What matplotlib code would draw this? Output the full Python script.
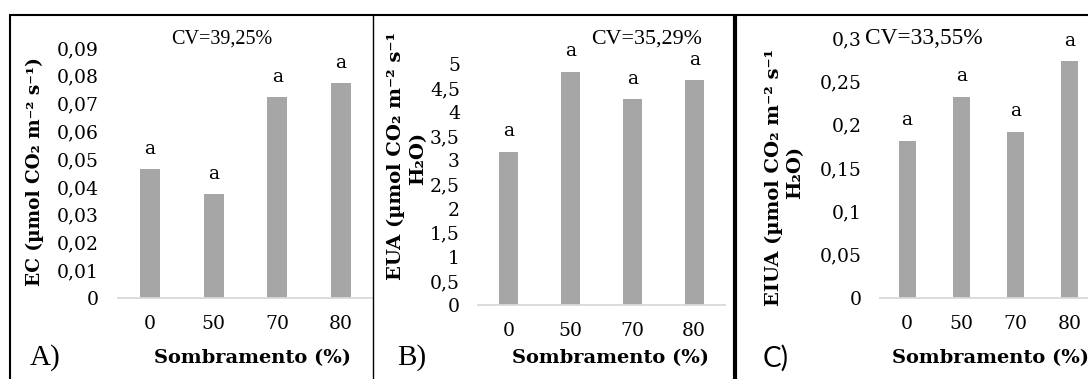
import matplotlib
matplotlib.use("Agg")
import matplotlib.pyplot as plt
from matplotlib.lines import Line2D

W, H = 1088, 379

categories = ["0", "50", "70", "80"]
ec_values = [0.0464, 0.0374, 0.0723, 0.0773]
eua_values = [3.18, 4.84, 4.27, 4.67]
eiua_values = [0.1816, 0.2324, 0.192, 0.2729]
letters = ["a", "a", "a", "a"]

ec_ticks = [0, 0.01, 0.02, 0.03, 0.04, 0.05, 0.06, 0.07, 0.08, 0.09]
ec_ticklabels = ["0", "0,01", "0,02", "0,03", "0,04", "0,05", "0,06", "0,07", "0,08", "0,09"]
eua_ticks = [0, 0.5, 1, 1.5, 2, 2.5, 3, 3.5, 4, 4.5, 5]
eua_ticklabels = ["0", "0,5", "1", "1,5", "2", "2,5", "3", "3,5", "4", "4,5", "5"]
eiua_ticks = [0, 0.05, 0.1, 0.15, 0.2, 0.25, 0.3]
eiua_ticklabels = ["0", "0,05", "0,1", "0,15", "0,2", "0,25", "0,3"]

cv_texts = ["CV=39,25%", "CV=35,29%", "CV=33,55%"]
xlabel = "Sombramento (%)"

BAR = "#a6a6a6"
SERIF = ["DejaVu Serif", "DejaVu Sans"]

fig = plt.figure(figsize=(W / 100, H / 100), dpi=100)


def fx(x):
    return x / W


def fy(y):
    return 1 - y / H


def make_axes(left, right, top, bottom):
    return fig.add_axes([fx(left), fy(bottom), fx(right) - fx(left), fy(top) - fy(bottom)])


def style(ax, values, ticks, ticklabels, ypad, xpad):
    x = range(len(categories))
    ax.bar(x, values, width=0.31, color=BAR, zorder=2)
    ax.set_xlim(-0.5, len(categories) - 0.5)
    ax.set_ylim(ticks[0], ticks[-1])
    ax.set_yticks(ticks)
    ax.set_yticklabels(ticklabels, family=SERIF, fontsize=13.5)
    ax.set_xticks(list(x))
    ax.set_xticklabels(categories, family=SERIF, fontsize=13.5)
    ax.tick_params(axis="y", length=0, pad=ypad)
    ax.tick_params(axis="x", length=0, pad=xpad)
    for s in ["top", "left", "right"]:
        ax.spines[s].set_visible(False)
    ax.spines["bottom"].set_color("#d9d9d9")
    ax.spines["bottom"].set_linewidth(1.3)
    ax.patch.set_alpha(0)
    for xi, v, l in zip(x, values, letters):
        ax.annotate(l, (xi, v), xytext=(0, 11), textcoords="offset points",
                    ha="center", va="baseline", family=SERIF, fontsize=13.5,
                    annotation_clip=False)


# Panel A
axA = make_axes(118, 373, 48, 298)
style(axA, ec_values, ec_ticks, ec_ticklabels, 14, 12.5)
# Panel B
axB = make_axes(478, 725, 64, 305)
style(axB, eua_values, eua_ticks, eua_ticklabels, 13, 12.5)
# Panel C
axC = make_axes(880, 1097, 38, 298)
style(axC, eiua_values, eiua_ticks, eiua_ticklabels, 13, 12.5)

# CV texts
fig.text(fx(222), fy(39), cv_texts[0], ha="center", va="center",
         family="Liberation Serif", fontsize=14.5)
fig.text(fx(647), fy(39), cv_texts[1], ha="center", va="center",
         family="Liberation Serif", fontsize=15.8)
fig.text(fx(924), fy(39), cv_texts[2], ha="center", va="center",
         family="Liberation Serif", fontsize=16.8)

# x labels
for cx in [253, 610, 990]:
    fig.text(fx(cx), fy(358), xlabel, ha="center", va="center",
             family=SERIF, fontsize=14, fontweight="bold")

# y labels
fig.text(fx(35), fy(172), "EC (µmol CO₂ m⁻² s⁻¹)", rotation=90, ha="center",
         va="center", family=SERIF, fontsize=13.3, fontweight="bold")
fig.text(fx(396), fy(156), "EUA (µmol CO₂ m⁻² s⁻¹", rotation=90, ha="center",
         va="center", family=SERIF, fontsize=14, fontweight="bold")
fig.text(fx(418), fy(158), "H₂O)", rotation=90, ha="center",
         va="center", family=SERIF, fontsize=14, fontweight="bold")
fig.text(fx(774), fy(177), "EIUA (µmol CO₂ m⁻² s⁻¹", rotation=90, ha="center",
         va="center", family=SERIF, fontsize=14, fontweight="bold")
fig.text(fx(795), fy(172), "H₂O)", rotation=90, ha="center",
         va="center", family=SERIF, fontsize=14, fontweight="bold")

# panel letters
fig.text(fx(30), fy(358), "A)", ha="left", va="center",
         family="Liberation Serif", fontsize=21)
fig.text(fx(397), fy(358), "B)", ha="left", va="center",
         family="Liberation Serif", fontsize=21)
fig.text(fx(763), fy(358), "C)", ha="left", va="center",
         family="Lato", fontsize=20)

# borders
def fline(x0, y0, x1, y1, lw):
    fig.add_artist(Line2D([fx(x0), fx(x1)], [fy(y0), fy(y1)], color="black",
                          linewidth=lw, transform=fig.transFigure, solid_capstyle="butt"))


fline(9, 15, 1088, 15, 1.5)
fline(10, 15, 10, 379, 1.5)
fline(373, 15, 373, 379, 1.0)
fline(735, 15, 735, 379, 3.0)

fig.savefig("out.png", dpi=100)
